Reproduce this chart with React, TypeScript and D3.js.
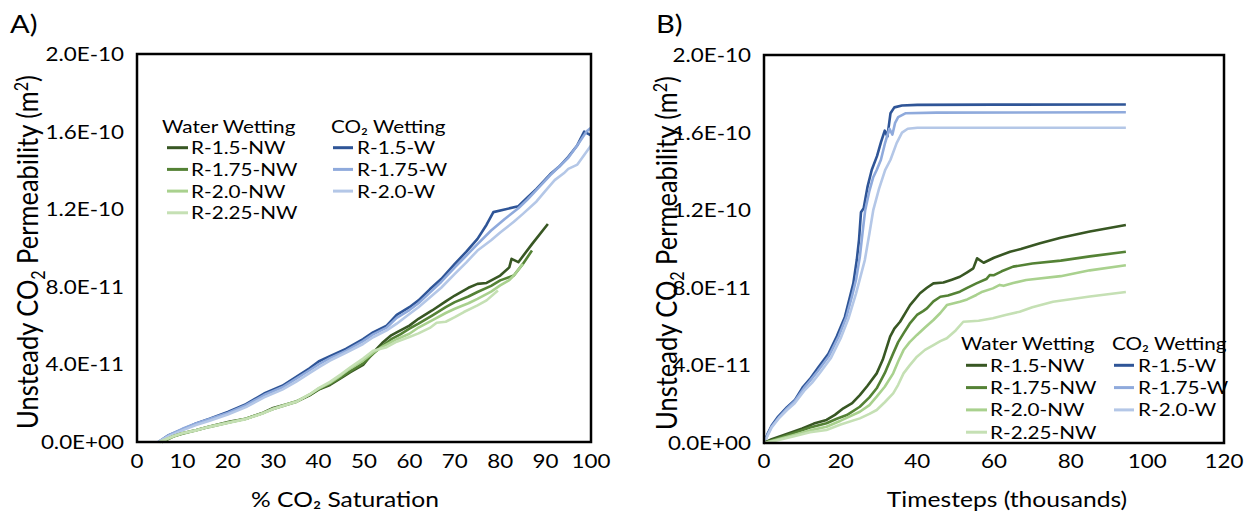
import React from 'react';
import * as d3 from 'd3';

// permeability values are in units of 1e-11 m2
const satTicks = [0, 10, 20, 30, 40, 50, 60, 70, 80, 90, 100];
const stepTicks = [0, 20, 40, 60, 80, 100, 120];
const permTicks = [0, 4, 8, 12, 16, 20];

const nwNames = ['R-1.5-NW', 'R-1.75-NW', 'R-2.0-NW', 'R-2.25-NW'];
const wNames = ['R-1.5-W', 'R-1.75-W', 'R-2.0-W'];

// panel A: [% CO2 saturation, permeability]
const satR15NW = [[5.5,0],[8,0.3],[10,0.45],[13.1,0.62],[16,0.8],[20.5,1.05],[24,1.2],[27.8,1.51],[30,1.75],[33,1.95],[35.2,2.1],[38,2.4],[40,2.7],[42.5,2.94],[45,3.3],[47,3.6],[49.8,3.97],[52,4.6],[54,5.1],[56,5.5],[57.2,5.65],[60,6.0],[62,6.35],[65,6.78],[68,7.25],[70,7.55],[73,7.95],[75,8.15],[77,8.2],[80,8.58],[82,9.0],[82.5,9.44],[84,9.27],[87,10.2],[90.5,11.24]];
const satR175NW = [[5.5,0],[8,0.28],[10,0.42],[13.1,0.6],[16,0.78],[20.5,1.02],[24,1.2],[27.8,1.5],[30,1.7],[33,1.92],[35.2,2.08],[38,2.42],[40,2.72],[42.5,3.0],[45,3.35],[47,3.65],[49.8,4.05],[52,4.55],[54,4.95],[56,5.3],[58,5.55],[60,5.84],[62,6.1],[65,6.52],[68,6.95],[70,7.21],[73,7.5],[75,7.73],[78,8.05],[80,8.33],[83,8.58],[85,9.18],[87,9.87]];
const satR20NW = [[5,0],[8,0.3],[10,0.45],[13.1,0.62],[16,0.8],[20.5,1.03],[24,1.2],[27.8,1.5],[30,1.72],[33,1.95],[35.2,2.1],[38,2.45],[40,2.75],[42.5,3.05],[45,3.45],[47,3.8],[49.8,4.2],[52,4.6],[54,4.9],[57.2,5.3],[60,5.58],[62,5.9],[65,6.27],[68,6.65],[70,6.87],[73,7.15],[75,7.38],[78,7.75],[80,8.07],[82,8.35],[83,8.58],[85,9.18]];
const satR225NW = [[5,0],[8,0.3],[10,0.45],[13.1,0.6],[16,0.78],[20.5,1.0],[24,1.18],[27.8,1.48],[30,1.7],[33,1.92],[35.2,2.08],[38,2.45],[40,2.78],[42.5,3.1],[45,3.5],[47,3.85],[49.8,4.3],[52,4.7],[55,4.89],[57.2,5.17],[60,5.41],[62,5.6],[64.5,5.88],[66,6.15],[68,6.2],[70,6.44],[72,6.7],[75,7.04],[77,7.3],[79.5,7.81]];
const satR15W = [[4.7,0],[7,0.35],[10,0.65],[13,0.96],[16,1.2],[20,1.55],[24,1.95],[28,2.5],[32,2.9],[35,3.35],[38,3.8],[40,4.15],[42.5,4.43],[46,4.8],[49.8,5.3],[52,5.65],[55,6.0],[57.2,6.55],[60,6.95],[62,7.3],[64.5,7.87],[67,8.4],[70,9.18],[72.5,9.8],[75,10.47],[77,11.2],[78.5,11.85],[84,12.15],[86,12.6],[88,13.05],[91,13.8],[93,14.2],[95,14.7],[97,15.3],[98.5,16.0],[100,15.8]];
const satR175W = [[4.7,0],[7,0.35],[10,0.68],[13,0.95],[16,1.18],[20,1.5],[24,1.9],[28,2.42],[32,2.82],[35,3.25],[38,3.7],[40,4.0],[42.5,4.32],[46,4.7],[49.8,5.2],[52,5.55],[55,5.9],[57.2,6.4],[60,6.8],[62,7.15],[64.5,7.7],[67,8.25],[70,9.0],[72.5,9.6],[75,10.2],[78,10.9],[81,11.5],[84,12.05],[86,12.5],[88,13.0],[91,13.75],[93,14.2],[95,14.65],[97,15.3],[99,16.0],[100,16.2]];
const satR20W = [[4.7,0],[7,0.3],[10,0.6],[13,0.88],[16,1.1],[20,1.42],[24,1.8],[28,2.3],[32,2.7],[35,3.1],[38,3.55],[40,3.85],[42.5,4.2],[46,4.6],[49.8,5.05],[52,5.4],[55,5.75],[57.2,6.1],[60,6.6],[62,6.95],[64.5,7.45],[67,7.95],[70,8.67],[72.5,9.25],[75,9.87],[78,10.4],[80,10.8],[83,11.35],[85,11.76],[88,12.4],[90,12.96],[92,13.5],[94,13.85],[95,14.08],[97,14.3],[100,15.28]];

// panel B: [timesteps (thousands), permeability]
const stepR15NW = [[0,0],[2,0.2],[5,0.4],[7.6,0.58],[10,0.75],[13,1.0],[16.3,1.19],[18.5,1.45],[20.7,1.79],[23,2.05],[25,2.47],[27,2.95],[29.4,3.59],[31,4.3],[32.9,5.48],[34,5.9],[35.5,6.25],[37,6.75],[38.1,7.11],[40.7,7.72],[42.5,8.0],[44.2,8.23],[46.8,8.27],[49,8.42],[51.1,8.57],[53,8.8],[54.6,9.0],[55.6,9.52],[57.3,9.29],[60,9.55],[64.2,9.86],[67,10.0],[72,10.3],[77.4,10.58],[85,10.9],[94.4,11.24]];
const stepR175NW = [[0,0],[3,0.2],[7.6,0.5],[12,0.8],[16.3,1.02],[19,1.25],[21.6,1.44],[25,1.87],[27.5,2.35],[29.4,2.82],[31.5,3.6],[33.7,4.62],[35,5.2],[36.4,5.65],[38,6.15],[39.9,6.6],[41.5,6.8],[42.5,6.94],[44.2,7.3],[46,7.54],[48,7.6],[51.1,7.8],[53,8.0],[55.4,8.23],[58,8.45],[58.9,8.66],[60,8.65],[62,8.85],[65,9.09],[70,9.25],[77.4,9.4],[85,9.62],[94.4,9.86]];
const stepR20NW = [[0,0],[3,0.15],[7.6,0.4],[12,0.65],[16.3,0.84],[20,1.15],[25,1.61],[27.5,1.95],[29.4,2.39],[31.5,2.9],[33.7,3.59],[35,4.2],[36.4,4.79],[38,5.2],[39.9,5.57],[42,5.95],[44.2,6.34],[46,6.7],[47.7,7.11],[51.1,7.28],[53,7.4],[55.4,7.63],[57,7.8],[59.7,7.97],[61.5,8.15],[62.5,8.1],[65,8.25],[68.4,8.4],[77.4,8.6],[85,8.9],[94.4,9.16]];
const stepR225NW = [[0,0],[3,0.12],[7.6,0.33],[12,0.55],[16.3,0.67],[20,0.95],[25,1.27],[27.5,1.5],[29.4,1.7],[31.5,2.1],[33.7,2.56],[35,3.0],[36.4,3.59],[38,4.0],[39.9,4.45],[42,4.8],[44.2,5.05],[46,5.25],[47.7,5.4],[50,5.8],[52,6.25],[56,6.3],[59.7,6.43],[63,6.6],[66.7,6.77],[70,7.0],[75.4,7.28],[85,7.55],[94.4,7.78]];
const stepR15W = [[0,0],[1,0.5],[2,0.9],[3.7,1.36],[6,1.85],[8,2.2],[10.2,2.9],[12,3.3],[14,3.85],[16.8,4.6],[19,5.5],[21.1,6.5],[22.5,7.6],[23.3,8.23],[24.2,9.43],[24.8,10.5],[25.3,11.9],[26,12.1],[27,13.2],[28.1,14.07],[29.5,14.8],[30.5,15.5],[31.5,16.1],[32.2,15.8],[33,17.0],[34,17.3],[36,17.4],[40,17.43],[60,17.44],[94.4,17.45]];
const stepR175W = [[0,0],[1,0.45],[2,0.85],[4,1.35],[6,1.78],[8,2.15],[10.5,2.85],[12,3.2],[14,3.7],[17,4.5],[19.5,5.5],[21.5,6.5],[23,7.6],[24,8.4],[25,9.6],[25.8,11.0],[26.4,12.0],[27.5,13.0],[28.5,13.7],[29.4,14.07],[30.5,14.6],[31.5,15.4],[32.7,16.2],[33.5,15.9],[34.2,16.5],[35,16.8],[37,17.0],[45,17.03],[94.4,17.05]];
const stepR20W = [[0,0],[1,0.4],[2,0.8],[4,1.3],[6,1.7],[8,2.05],[10.5,2.7],[12.5,3.1],[14.5,3.6],[17.5,4.4],[20,5.4],[22,6.4],[24,7.7],[26.3,9.43],[27.5,10.8],[28.5,12.0],[30,13.1],[31.6,14.07],[33,14.6],[34.6,15.46],[36,16.0],[37.5,16.2],[40,16.25],[94.4,16.25]];

const nwColors = ['#385723', '#548235', '#a9d18e', '#c5e0b4'];
const wColors = ['#2f5597', '#8faadc', '#b4c7e7'];

const FONT = 'Lato, "Open Sans", sans-serif';

const fmtPerm = (v: number) => {
  const [m, e] = (v * 1e-11).toExponential(1).split('e');
  const n = +e;
  return m + 'E' + (n < 0 ? '-' : '+') + String(Math.abs(n)).padStart(2, '0');
};

function HText({ x, y, anchor = 'start', size = 20, sx = 1.12, children }: any) {
  return (
    <g transform={`translate(${x},${y}) scale(${sx},1)`}>
      <text textAnchor={anchor} fontSize={size} fill="#000" fontFamily={FONT}>{children}</text>
    </g>
  );
}

function Panel({ box, xDomain, xTicks, nw, w, xTitle, xTitleX, label, labelX, titleX, legend }: any) {
  const x = d3.scaleLinear().domain(xDomain).range([box.left, box.right]);
  const y = d3.scaleLinear().domain([0, 20]).range([box.bottom, box.top]);
  const line = d3.line<number[]>().x(d => x(d[0])).y(d => y(d[1]));
  const midY = (box.top + box.bottom) / 2 + 4;
  const lg = { size: 18, sx: 1.15 };
  return (
    <g>
      <HText x={labelX} y={33} size={26}>{label}</HText>
      {permTicks.map(t => (
        <HText key={t} x={box.left - 13} y={y(t) + 7} anchor="end">{fmtPerm(t)}</HText>
      ))}
      {xTicks.map((t: number) => (
        <HText key={t} x={x(t)} y={468} anchor="middle">{t}</HText>
      ))}
      <g transform={`translate(${titleX},${midY}) scale(1.15,1) rotate(-90)`}>
        <text textAnchor="middle" fontSize={25.5} fill="#000" fontFamily={FONT}>
          Unsteady CO<tspan fontSize={16} dy={6}>2</tspan>
          <tspan dy={-6}> Permeability (m</tspan>
          <tspan fontSize={16} dy={-9}>2</tspan>
          <tspan dy={9}>)</tspan>
        </text>
      </g>
      <HText x={xTitleX} y={507} anchor="middle" size={22}>{xTitle}</HText>
      {w.map((s: number[][], i: number) => (
        <path key={'w' + i} d={line(s) || ''} fill="none" stroke={wColors[i]} strokeWidth={2.6} strokeLinejoin="round" />
      ))}
      {nw.map((s: number[][], i: number) => (
        <path key={'nw' + i} d={line(s) || ''} fill="none" stroke={nwColors[i]} strokeWidth={2.6} strokeLinejoin="round" />
      ))}
      <rect x={box.left} y={box.top} width={box.right - box.left} height={box.bottom - box.top}
        fill="none" stroke="#000" strokeWidth={2.5} />
      {/* legend */}
      <HText x={legend.nwX} y={legend.top + 6.5} {...lg}>Water Wetting</HText>
      {nwNames.map((n, i) => {
        const yy = legend.top + legend.gap * (i + 1);
        return (
          <g key={n}>
            <line x1={legend.nwX + 5} x2={legend.nwX + 26} y1={yy} y2={yy} stroke={nwColors[i]} strokeWidth={3} />
            <HText x={legend.nwX + 29} y={yy + 6.5} {...lg}>{n}</HText>
          </g>
        );
      })}
      <HText x={legend.wX} y={legend.top + 6.5} {...lg}>CO₂ Wetting</HText>
      {wNames.map((n, i) => {
        const yy = legend.top + legend.gap * (i + 1);
        return (
          <g key={n}>
            <line x1={legend.wX + 2} x2={legend.wX + 22} y1={yy} y2={yy} stroke={wColors[i]} strokeWidth={3} />
            <HText x={legend.wX + 26} y={yy + 6.5} {...lg}>{n}</HText>
          </g>
        );
      })}
    </g>
  );
}

export default function App() {
  return (
    <div style={{ position: 'absolute', left: 0, top: 0 }}>
      <svg width={1250} height={516} style={{ display: 'block', background: '#fff' }}>
        <Panel
          box={{ left: 137, right: 591, top: 54, bottom: 442 }}
          xDomain={[0, 100]} xTicks={satTicks}
          nw={[satR15NW, satR175NW, satR20NW, satR225NW]}
          w={[satR15W, satR175W, satR20W]}
          xTitle="% CO₂ Saturation" xTitleX={345}
          label="A)" labelX={10} titleX={38}
          legend={{ nwX: 162, wX: 331, top: 126, gap: 21.7 }}
        />
        <Panel
          box={{ left: 764, right: 1224, top: 55, bottom: 443 }}
          xDomain={[0, 120]} xTicks={stepTicks}
          nw={[stepR15NW, stepR175NW, stepR20NW, stepR225NW]}
          w={[stepR15W, stepR175W, stepR20W]}
          xTitle="Timesteps (thousands)" xTitleX={1007}
          label="B)" labelX={656} titleX={677}
          legend={{ nwX: 961, wX: 1112, top: 343, gap: 22.3 }}
        />
      </svg>
    </div>
  );
}
